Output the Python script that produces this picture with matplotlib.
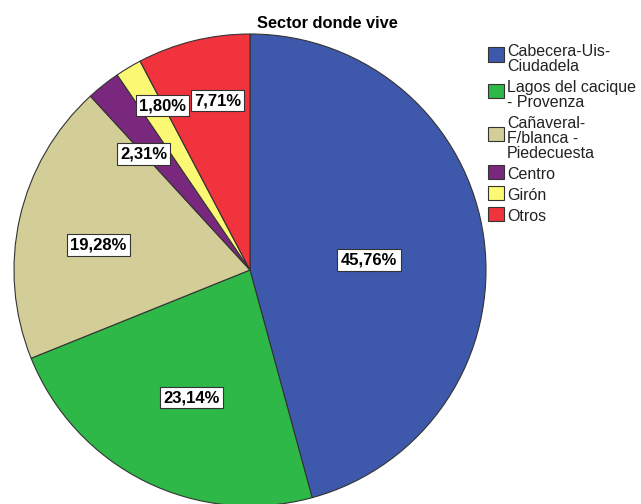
import matplotlib
matplotlib.use("Agg")
import matplotlib.pyplot as plt
import numpy as np
from matplotlib.patches import Rectangle

plt.rcParams['font.family'] = ['Liberation Sans', 'DejaVu Sans']

title = "Sector donde vive"
sectors = ["Cabecera-Uis-\nCiudadela", "Lagos del cacique\n- Provenza",
           "Cañaveral-\nF/blanca -\nPiedecuesta", "Centro", "Girón", "Otros"]
percents = [45.76, 23.14, 19.28, 2.31, 1.80, 7.71]
colors = ["#3E58AC", "#2EB848", "#D3CE97", "#7A287D", "#FBF873", "#F0333D"]

# label placement tweaks (fraction of radius, degrees off the wedge middle)
label_r = [0.506, 0.594, 0.651, 0.667, 0.789, 0.731]
label_da = [-2.8, 1.9, 3.3, 4.2, -3.0, -3.0]

W, H = 641, 504
cx, cy, R = 250, 270, 236  # pie centre and radius in pixels

fig = plt.figure(figsize=(W / 100, H / 100), dpi=100)
ax = fig.add_axes([0, 0, 1, 1])

wedges, _ = ax.pie(percents, colors=colors, startangle=90, counterclock=False,
                   radius=1, wedgeprops=dict(edgecolor="#333333", linewidth=0.8))
ax.set_xlim(-cx / R, (W - cx) / R)
ax.set_ylim(-(H - cy) / R, cy / R)
ax.set_aspect('auto')
ax.axis('off')

for w, p, r, da in zip(wedges, percents, label_r, label_da):
    a = np.deg2rad((w.theta1 + w.theta2) / 2 + da)
    ax.text(r * np.cos(a), r * np.sin(a), f"{p:.2f}%".replace('.', ','),
            ha='center', va='center', fontsize=12, fontweight='bold',
            bbox=dict(boxstyle='square,pad=0.2', facecolor='white',
                      edgecolor='#333333', linewidth=0.8))


def fpos(x, y):
    return x / W, 1 - y / H


fig.text(*fpos(327.5, 28), title, ha='center', va='baseline',
         fontsize=11.8, fontweight='bold')

# hand-made legend, one baseline per text line
line_h = 15
entry_gap = 6
base = 56
for lab, col in zip(sectors, colors):
    lines = lab.split("\n")
    for i, ln in enumerate(lines):
        fig.text(*fpos(507, base + i * line_h), ln, ha='left', va='baseline',
                 fontsize=11.5, color='#222222')
    top = base - 12
    bottom = base + (len(lines) - 1) * line_h
    mid = (top + bottom) / 2 - 1
    if len(lines) > 1:
        mid -= 2
    sx, sy = fpos(488, mid + 7)
    fig.patches.append(Rectangle((sx, sy), 16 / W, 14 / H, transform=fig.transFigure,
                                 facecolor=col, edgecolor='#333333', linewidth=0.8))
    base += len(lines) * line_h + entry_gap

fig.savefig("out.png", dpi=100)
